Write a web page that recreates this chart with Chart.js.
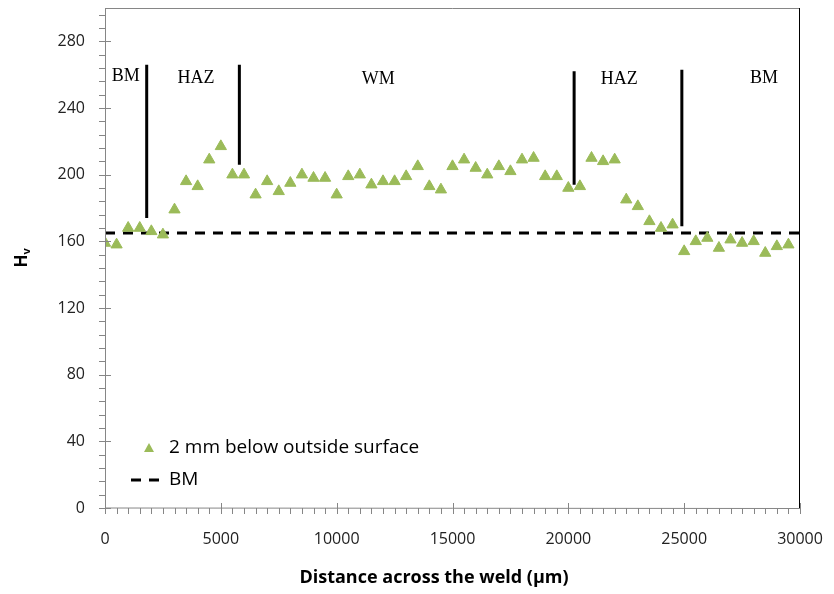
<!DOCTYPE html>
<html>
<head>
<meta charset="utf-8">
<script src="https://cdn.jsdelivr.net/npm/chart.js@4.4.1/dist/chart.umd.min.js"></script>
<style>
  html, body { margin: 0; padding: 0; background: #fff; }
  #wrap { width: 834px; height: 594px; }
</style>
</head>
<body>
<div id="wrap"><canvas id="chart" width="834" height="594"></canvas></div>
<script>
// distance across the weld (µm) and hardness readings
const distance = [0, 500, 1000, 1500, 2000, 2500, 3000, 3500, 4000, 4500,
  5000, 5500, 6000, 6500, 7000, 7500, 8000, 8500, 9000, 9500,
  10000, 10500, 11000, 11500, 12000, 12500, 13000, 13500, 14000, 14500,
  15000, 15500, 16000, 16500, 17000, 17500, 18000, 18500, 19000, 19500,
  20000, 20500, 21000, 21500, 22000, 22500, 23000, 23500, 24000, 24500,
  25000, 25500, 26000, 26500, 27000, 27500, 28000, 28500, 29000, 29500];
const hardness = [159, 158, 168, 168, 166, 164, 179, 196, 193, 209,
  217, 200, 200, 188, 196, 190, 195, 200, 198, 198,
  188, 199, 200, 194, 196, 196, 199, 205, 193, 191,
  205, 209, 204, 200, 205, 202, 209, 210, 199, 199,
  192, 193, 210, 208, 209, 185, 181, 172, 168, 170,
  154, 160, 162, 156, 161, 159, 160, 153, 157, 158];

// base metal reference level
const bmLevel = 165;
const bmRange = [0, 30000];

// zone boundaries: x, top, bottom
const boundaryX = [1800, 5800, 20250, 24900];
const boundaryTop = [266, 266, 262, 263];
const boundaryBottom = [174, 206, 194, 169];

// zone labels
const zoneNames = ["BM", "HAZ", "WM", "HAZ", "BM"];
const zoneX = [900, 3930, 11800, 22200, 28450];
const zoneY = [259, 258, 257, 257, 258];

const xTicks = [0, 5000, 10000, 15000, 20000, 25000, 30000];
const yTicks = [0, 40, 80, 120, 160, 200, 240, 280];

const green = "#9bbb59";

const datasets = [
  {
    label: "2 mm below outside surface",
    data: distance.map((d, i) => ({ x: d, y: hardness[i] })),
    showLine: false,
    pointStyle: "triangle",
    pointRadius: 6.5,
    pointBackgroundColor: green,
    pointBorderColor: green,
    pointBorderWidth: 1,
    order: 1
  },
  {
    label: "BM",
    data: bmRange.map(x => ({ x: x, y: bmLevel })),
    showLine: true,
    borderColor: "#000",
    borderWidth: 3,
    borderDash: [10, 8],
    pointRadius: 0,
    order: 2
  }
];
boundaryX.forEach((bx, i) => {
  datasets.push({
    label: "boundary",
    data: [{ x: bx, y: boundaryTop[i] }, { x: bx, y: boundaryBottom[i] }],
    showLine: true,
    borderColor: "#000",
    borderWidth: 3,
    pointRadius: 0,
    order: 3
  });
});

// frame, tick marks, tick labels, titles, zone names and legend
const decor = {
  id: "decor",
  afterDraw(chart) {
    const ctx = chart.ctx;
    const a = chart.chartArea;
    const xs = chart.scales.x, ys = chart.scales.y;
    ctx.save();
    ctx.lineWidth = 1;
    ctx.strokeStyle = "#868686";
    ctx.beginPath();
    ctx.moveTo(a.left + 0.5, a.top + 0.5);
    ctx.lineTo(a.right, a.top + 0.5);
    ctx.moveTo(a.left + 0.5, a.top);
    ctx.lineTo(a.left + 0.5, a.bottom);
    ctx.lineTo(a.right, a.bottom + 0.5);
    // x ticks
    for (let v = 0; v <= 30000; v += 500) {
      const px = Math.round(xs.getPixelForValue(v)) + 0.5;
      const major = v % 5000 === 0;
      ctx.moveTo(px, a.bottom + (major ? -5 : 0));
      ctx.lineTo(px, a.bottom + 6);
    }
    // y ticks
    for (let v = 0; v <= 296; v += 8) {
      const py = Math.round(ys.getPixelForValue(v)) + 0.5;
      const major = v % 40 === 0;
      ctx.moveTo(a.left - 6, py);
      ctx.lineTo(a.left + (major ? 6 : 0), py);
    }
    ctx.stroke();
    ctx.strokeStyle = "#000";
    ctx.beginPath();
    ctx.moveTo(a.right - 0.5, a.top);
    ctx.lineTo(a.right - 0.5, a.bottom);
    ctx.stroke();

    // tick labels
    ctx.fillStyle = "#222";
    ctx.font = "16px 'Open Sans'";
    ctx.textBaseline = "middle";
    ctx.textAlign = "center";
    xTicks.forEach(v => ctx.fillText(String(v), xs.getPixelForValue(v), a.bottom + 31));
    ctx.textAlign = "right";
    yTicks.forEach(v => ctx.fillText(String(v), a.left - 20, ys.getPixelForValue(v)));

    // zone names
    ctx.fillStyle = "#000";
    ctx.font = "18px 'Liberation Serif'";
    ctx.textAlign = "center";
    zoneNames.forEach((n, i) => {
      ctx.fillText(n, xs.getPixelForValue(zoneX[i]), ys.getPixelForValue(zoneY[i]));
    });

    // axis titles
    ctx.font = "bold 18px 'Open Sans'";
    ctx.fillText("Distance across the weld (µm)", 434, 578);
    ctx.save();
    ctx.translate(22, 258);
    ctx.rotate(-Math.PI / 2);
    ctx.textAlign = "left";
    ctx.font = "bold 17px 'Open Sans'";
    const hw = ctx.measureText("H").width;
    ctx.fillText("H", -hw / 2 - 3, 0);
    ctx.font = "bold 11px 'Open Sans'";
    ctx.fillText("v", hw / 2 - 3, 5);
    ctx.restore();

    // legend
    ctx.font = "19px 'Open Sans'";
    ctx.textAlign = "left";
    const lx = 149, ly1 = 448, ly2 = 480;
    ctx.fillStyle = green;
    ctx.beginPath();
    ctx.moveTo(lx, ly1 - 5);
    ctx.lineTo(lx + 5, ly1 + 4);
    ctx.lineTo(lx - 5, ly1 + 4);
    ctx.closePath();
    ctx.fill();
    ctx.fillStyle = "#000";
    ctx.fillText(chart.data.datasets[0].label, 169, ly1);
    ctx.strokeStyle = "#000";
    ctx.lineWidth = 3;
    ctx.setLineDash([10, 8]);
    ctx.beginPath();
    ctx.moveTo(131, ly2);
    ctx.lineTo(160, ly2);
    ctx.stroke();
    ctx.setLineDash([]);
    ctx.fillText(chart.data.datasets[1].label, 169, ly2);
    ctx.restore();
  }
};

new Chart(document.getElementById("chart"), {
  type: "scatter",
  data: { datasets: datasets },
  options: {
    responsive: false,
    animation: false,
    layout: { padding: { top: 8, right: 34, left: 0, bottom: 0 } },
    plugins: { legend: { display: false }, tooltip: { enabled: false } },
    scales: {
      x: {
        type: "linear",
        min: 0,
        max: 30000,
        grid: { display: false, drawTicks: false },
        border: { display: false },
        ticks: { display: false },
        afterFit: s => { s.height = 86; }
      },
      y: {
        type: "linear",
        min: 0,
        max: 300,
        grid: { display: false, drawTicks: false },
        border: { display: false },
        ticks: { display: false },
        afterFit: s => { s.width = 105; }
      }
    }
  },
  plugins: [decor]
});
</script>
</body>
</html>
